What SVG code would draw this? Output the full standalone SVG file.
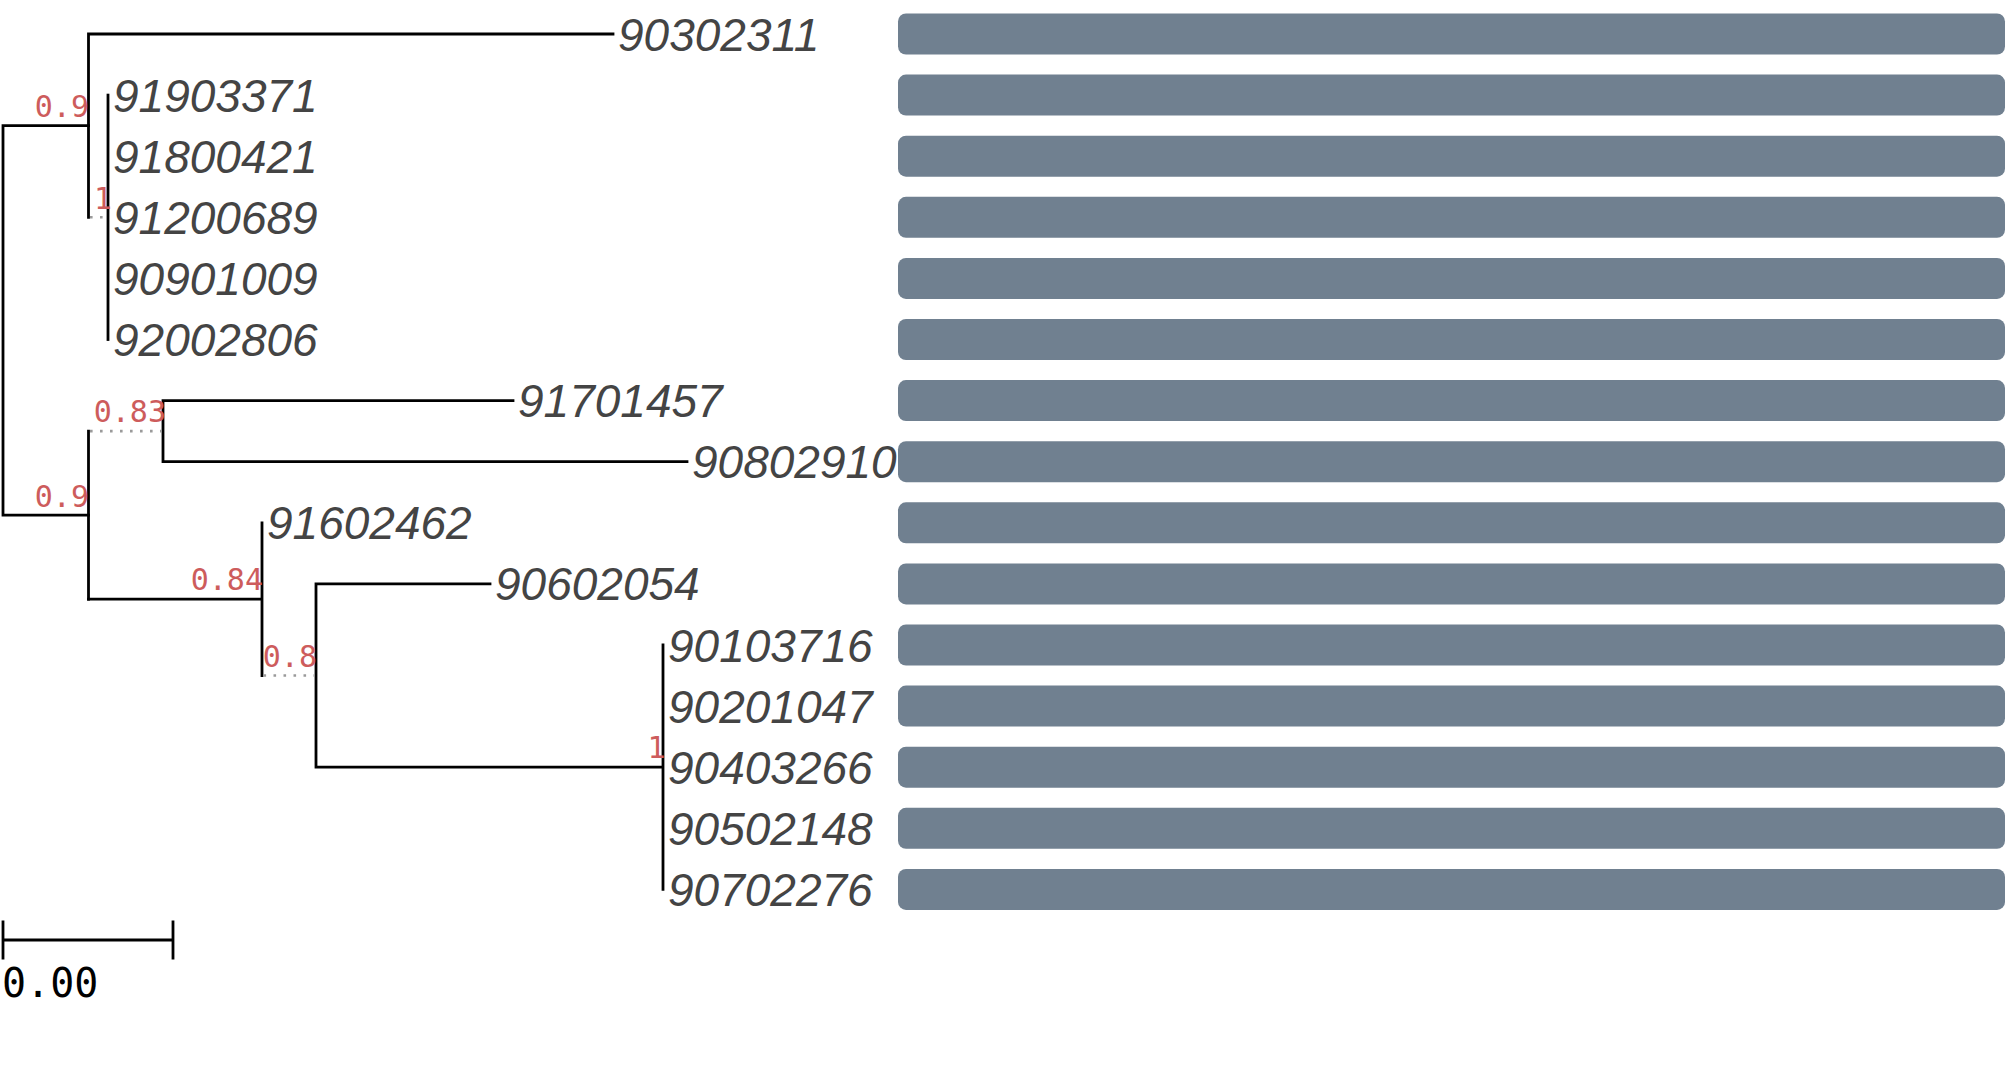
<svg xmlns="http://www.w3.org/2000/svg" width="2007" height="1092" viewBox="0 0 2007 1092">
<style>
.br{fill:none;stroke:#000;stroke-width:2.8;stroke-linecap:square}
.dot{fill:none;stroke:#9a9a9a;stroke-width:2.6;stroke-dasharray:2.6 7.4}
.bar{fill:#708090}
.tip{font-family:"Liberation Sans",Arial,sans-serif;font-style:italic;font-size:46px;fill:#444}
.sup{font-family:"DejaVu Sans Mono",monospace;font-size:30px;fill:#cd5c5c;text-anchor:end}
.scale{font-family:"DejaVu Sans Mono",monospace;font-size:40px;fill:#000}
</style>
<rect width="2007" height="1092" fill="#fff"/>
<g id="connectors">
<path class="br" d="M3,125.65V515.2M3,125.65H88.5M3,515.2H88.5"/>
<path class="br" d="M88.5,34V217.3M88.5,34H613"/>
<path class="dot" d="M90,217.3H107"/>
<path class="br" d="M108,95.1V339.5"/>
<path class="br" d="M88.5,431.15V599.2"/>
<path class="dot" d="M90,431.15H161"/>
<path class="br" d="M163,400.6V461.7M163,400.6H513M163,461.7H687"/>
<path class="br" d="M88.5,599.2H262M262,522.8V675.55"/>
<path class="dot" d="M263.5,675.55H314"/>
<path class="br" d="M316,583.9V767.2M316,583.9H490M316,767.2H663M663,645V889.4"/>
</g>
<g id="n-90302311"><rect class="bar" x="898" y="13.5" width="1107" height="41" rx="8"/><text class="tip" x="618" y="50.5">90302311</text></g>
<g id="n-91903371"><rect class="bar" x="898" y="74.6" width="1107" height="41" rx="8"/><text class="tip" x="113" y="111.6">91903371</text></g>
<g id="n-91800421"><rect class="bar" x="898" y="135.7" width="1107" height="41" rx="8"/><text class="tip" x="113" y="172.7">91800421</text></g>
<g id="n-91200689"><rect class="bar" x="898" y="196.8" width="1107" height="41" rx="8"/><text class="tip" x="113" y="233.8">91200689</text></g>
<g id="n-90901009"><rect class="bar" x="898" y="257.9" width="1107" height="41" rx="8"/><text class="tip" x="113" y="294.9">90901009</text></g>
<g id="n-92002806"><rect class="bar" x="898" y="319" width="1107" height="41" rx="8"/><text class="tip" x="113" y="356">92002806</text></g>
<g id="n-91701457"><rect class="bar" x="898" y="380.1" width="1107" height="41" rx="8"/><text class="tip" x="518" y="417.1">91701457</text></g>
<g id="n-90802910"><rect class="bar" x="898" y="441.2" width="1107" height="41" rx="8"/><text class="tip" x="692" y="478.2">90802910</text></g>
<g id="n-91602462"><rect class="bar" x="898" y="502.3" width="1107" height="41" rx="8"/><text class="tip" x="267" y="539.3">91602462</text></g>
<g id="n-90602054"><rect class="bar" x="898" y="563.4" width="1107" height="41" rx="8"/><text class="tip" x="495" y="600.4">90602054</text></g>
<g id="n-90103716"><rect class="bar" x="898" y="624.5" width="1107" height="41" rx="8"/><text class="tip" x="668" y="661.5">90103716</text></g>
<g id="n-90201047"><rect class="bar" x="898" y="685.6" width="1107" height="41" rx="8"/><text class="tip" x="668" y="722.6">90201047</text></g>
<g id="n-90403266"><rect class="bar" x="898" y="746.7" width="1107" height="41" rx="8"/><text class="tip" x="668" y="783.7">90403266</text></g>
<g id="n-90502148"><rect class="bar" x="898" y="807.8" width="1107" height="41" rx="8"/><text class="tip" x="668" y="844.8">90502148</text></g>
<g id="n-90702276"><rect class="bar" x="898" y="868.9" width="1107" height="41" rx="8"/><text class="tip" x="668" y="905.9">90702276</text></g>
<g id="internal-A"><text class="sup" x="89" y="117">0.9</text></g>
<g id="internal-B"><text class="sup" x="112" y="208.5">1</text></g>
<g id="internal-C"><text class="sup" x="89" y="506.5">0.9</text></g>
<g id="internal-D"><text class="sup" x="166" y="422">0.83</text></g>
<g id="internal-E"><text class="sup" x="263" y="590">0.84</text></g>
<g id="internal-F"><text class="sup" x="317" y="666.5">0.8</text></g>
<g id="internal-G"><text class="sup" x="665.5" y="758">1</text></g>
<g id="scale-bar">
<path class="br" d="M3,940H173M3,922V958M173,922V958"/>
<text class="scale" x="2" y="997">0.00</text>
</g>
</svg>
